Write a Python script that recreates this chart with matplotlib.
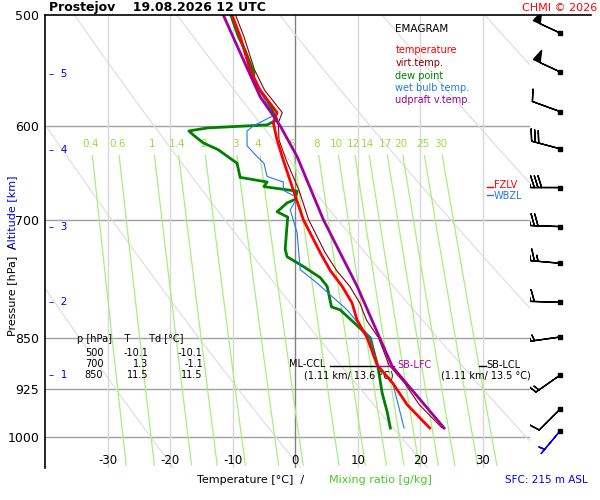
import numpy as np
import matplotlib
matplotlib.use("Agg")
import matplotlib.pyplot as plt

# --- sounding data ---
T_P = [986, 949, 916, 889, 850, 826, 803, 781, 761, 739, 700, 667, 635, 614, 597, 587, 566, 547, 518, 500]
T_C = [21.5, 17.9, 15.6, 13.1, 11.5, 9.9, 9.1, 7.5, 5.6, 4.0, 1.3, -0.3, -1.9, -2.9, -3.5, -2.9, -5.6, -7.2, -8.8, -10.1]

TD_P = [986, 960, 931, 891, 850, 812, 808, 781, 770, 756, 744, 735, 715, 697, 691, 681, 677, 668, 663, 658,
        653, 638, 631, 624, 617, 609, 605, 602, 599, 594, 587, 575, 566, 558, 550, 530, 518, 500]
TD_C = [15.2, 14.7, 13.9, 13.2, 12.0, 7.2, 5.8, 5.1, 4.0, 1.3, -1.3, -1.6, -1.4, -1.2, -2.9, -1.3, 0.0, 0.3, -5.0, -4.5,
        -8.8, -9.3, -10.8, -12.3, -14.7, -16.3, -17.0, -14.0, -4.5, -2.9, -3.5, -4.5, -5.6, -6.7, -6.6, -8.0, -9.1, -10.3]

TW_P = [986, 916, 889, 850, 812, 777, 760, 715, 689, 675, 667, 658, 652, 638, 631, 620, 605, 600, 590, 566, 547, 518, 500]
TW_C = [17.4, 15.6, 13.1, 12.0, 8.3, 3.5, 0.8, 0.3, -0.8, 0.3, -1.9, -1.9, -4.5, -5.0, -6.1, -7.7, -7.7, -6.7, -3.5, -5.7, -7.3, -8.9, -10.2]

PARCEL_P = [986, 891, 850, 781, 735, 700, 631, 600, 572, 532, 500]
PARCEL_C = [23.8, 15.5, 13.5, 9.9, 6.9, 4.5, 0.3, -2.4, -5.6, -8.8, -11.5]

MIX_RATIOS = [0.4, 0.6, 1, 1.4, 2, 3, 4, 6, 8, 10, 12, 14, 17, 20, 25, 30]
MIX_LABELS = ["0.4", "0.6", "1", "1.4", "2", "3", "4", "6", "8", "10", "12", "14", "17", "20", "25", "30"]

P_TICKS = [500, 600, 700, 850, 925, 1000]
T_TICKS = [-30, -20, -10, 0, 10, 20, 30]
ALT_KM = [1, 2, 3, 4, 5]
ALT_P = [904, 802, 708, 624, 551]

WIND_P = [515, 549, 586, 623, 664, 708, 752, 802, 849, 904, 956, 991]
WIND_DIR = [295, 295, 290, 285, 270, 272, 275, 272, 262, 235, 225, 220]
WIND_KT = [50, 50, 10, 30, 40, 30, 25, 20, 15, 15, 10, 5]

P_TOP, P_BOT = 500, 1053
T_MIN, T_MAX = -40, 37.5

MIX_GREEN = "#a6f07a"
LABEL_GREEN = "#99dd44"

fig = plt.figure(figsize=(6, 5), dpi=100)
fig.patch.set_facecolor("white")
ax = fig.add_axes([0.075, 0.064, 0.808, 0.906])
ax.set_yscale("log")
ax.set_ylim(P_BOT, P_TOP)
ax.set_xlim(T_MIN, T_MAX)
for s in ("right", "bottom", "top"):
    ax.spines[s].set_visible(False)
ax.spines["left"].set_linewidth(1.2)
ax.set_yticks(P_TICKS)
ax.set_yticklabels([str(p) for p in P_TICKS], fontsize=9)
ax.minorticks_off()
ax.tick_params(axis="y", length=0, pad=4)
ax.set_xticks([])

# grid
for p in P_TICKS[1:-1] + [1000]:
    ax.axhline(p, color="#a0a0a0", lw=1, zorder=1)
for t in T_TICKS:
    ax.axvline(t, color="#808080" if t == 0 else "#d8d8d8", lw=1, zorder=1)

# dry adiabats
pp = np.geomspace(P_TOP, P_BOT, 100)
for th in range(230, 480, 20):
    ax.plot(th * (pp / 1000) ** 0.286 - 273.15, pp, color="#dcdcdc", lw=0.8, zorder=1)

# mixing ratio lines
pm = np.geomspace(630, 1048, 50)
for w, lab in zip(MIX_RATIOS, MIX_LABELS):
    e = w * pm / (622 + w)
    le = np.log(e / 6.112)
    tm = 243.5 * le / (17.67 - le)
    ax.plot(tm, pm, color=MIX_GREEN, lw=0.9, zorder=1)
    ax.text(tm[0] - 0.3, 618, lab, color=LABEL_GREEN, fontsize=7.5, ha="center", va="center")

# virtual temperature from T and interpolated Td
td_i = np.interp(np.log(T_P), np.log(TD_P[::-1]), TD_C[::-1])
e = 6.112 * np.exp(17.67 * td_i / (td_i + 243.5))
w = 0.622 * e / (np.array(T_P) - e)
tv = (np.array(T_C) + 273.15) * (1 + 0.61 * w) - 273.15

ax.plot(tv, T_P, color="#8b0000", lw=0.8, zorder=3)
ax.plot(TD_C, TD_P, color="#008000", lw=2, zorder=3)
ax.plot(TW_C, TW_P, color="#2277ee", lw=0.8, zorder=3)
ax.plot(T_C, T_P, color="#ff0000", lw=2, zorder=4)
ax.plot(PARCEL_C, PARCEL_P, color="#a000a0", lw=2, zorder=4)

# temperature tick labels
for t in T_TICKS:
    ax.text(t, 1040, str(t), ha="center", va="center", fontsize=8.5)

# altitude markers
for km, p in zip(ALT_KM, ALT_P):
    ax.text(-39.3, p, "\u2013  " + str(km), color="#0000ee", fontsize=7.5, va="center")

# levels
ax.plot([5.5, 12.8], [891, 891], color="black", lw=1, zorder=5)
ax.plot([12.8, 15.8], [891, 891], color="#a000a0", lw=1, zorder=5)
ax.text(4.8, 887, "ML-CCL", fontsize=7, ha="right", va="center")
ax.text(8.5, 905, "(1.11 km/ 13.6 \u00b0C)", fontsize=7, ha="center", va="center")
ax.text(16.3, 889, "SB-LFC", fontsize=7, color="#b000b0", va="center")
ax.plot([29.3, 30.5], [891, 891], color="black", lw=1)
ax.text(30.6, 889, "SB-LCL", fontsize=7, va="center")
ax.text(30.4, 905, "(1.11 km/ 13.5 \u00b0C)", fontsize=7, ha="center", va="center")
ax.plot([30.6, 31.6], [663, 663], color="red", lw=1)
ax.text(31.8, 661, "FZLV", fontsize=7, color="red", va="center")
ax.plot([30.6, 31.6], [672, 672], color="#2277ee", lw=1)
ax.text(31.8, 673, "WBZL", fontsize=7, color="#2277ee", va="center")

# legend block
ax.text(16, 512, "EMAGRAM", fontsize=7.5, va="center")
for i, (txt, c) in enumerate([("temperature", "red"), ("virt.temp.", "#8b0000"),
                              ("dew point", "#008000"), ("wet bulb temp.", "#2277ee"),
                              ("udpraft v.temp.", "#a000a0")]):
    ax.text(16, 530 + i * 11.2, txt, fontsize=7, color=c, va="center")

# value table
fig.text(0.128, 0.315, "p [hPa]    T      Td [\u00b0C]", fontsize=7)
for i, row in enumerate([("500", "-10.1", "-10.1"), ("700", "1.3", "-1.1"), ("850", "11.5", "11.5")]):
    y = 0.288 - i * 0.022
    fig.text(0.172, y, row[0], fontsize=7, ha="right")
    fig.text(0.247, y, row[1], fontsize=7, ha="right")
    fig.text(0.338, y, row[2], fontsize=7, ha="right")

# wind barbs
axw = fig.add_axes([0.883, 0.064, 0.117, 0.906], sharey=ax)
axw.set_xlim(-1, 1)
axw.axis("off")
rad = np.deg2rad(WIND_DIR)
kt = np.array(WIND_KT, float)
u = -kt * np.sin(rad)
v = -kt * np.cos(rad)
cols = ["black"] * (len(WIND_P) - 1) + ["#0000ee"]
axw.barbs([-0.14] * len(WIND_P), WIND_P, u, v, color=cols, length=6.5, linewidth=1.0,
          barb_increments=dict(half=5, full=10, flag=50))
axw.plot([-0.14] * len(WIND_P), WIND_P, "s", ms=2.5, color="black")

# top line, titles
fig.add_artist(plt.Line2D([0.075, 0.985], [0.97, 0.97], color="black", lw=1.2))
fig.text(0.082, 0.977, "Prostejov    19.08.2026 12 UTC", fontsize=9, fontweight="bold")
fig.text(0.995, 0.978, "CHMI \u00a9 2026", fontsize=8, color="red", ha="right")
fig.text(0.012, 0.575, "Altitude [km]", color="#0000ee", fontsize=8, rotation=90, va="center")
fig.text(0.012, 0.42, "Pressure [hPa]  /", color="black", fontsize=8, rotation=90, va="center")
fig.text(0.328, 0.04, "Temperature [\u00b0C]  /", fontsize=8, va="center")
fig.text(0.548, 0.04, "Mixing ratio [g/kg]", fontsize=8, color="#44cc22", va="center")
fig.text(0.98, 0.04, "SFC: 215 m ASL", fontsize=7.5, color="#0000ee", ha="right", va="center")

fig.savefig("out.png", dpi=100)
